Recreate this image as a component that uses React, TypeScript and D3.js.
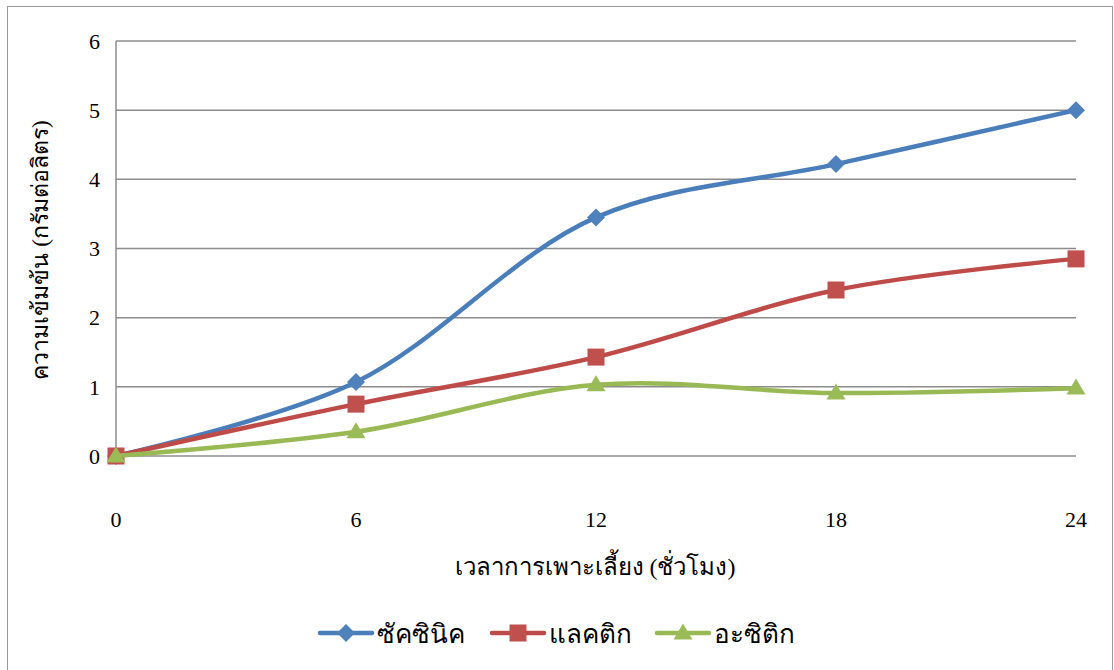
import React from "react";
import * as d3 from "d3";

const hours = [0, 6, 12, 18, 24];
const succinic = [0, 1.07, 3.45, 4.22, 5.0];
const lactic = [0, 0.75, 1.43, 2.4, 2.85];
const acetic = [0, 0.35, 1.03, 0.91, 0.98];
const yTicks = [0, 1, 2, 3, 4, 5, 6];

const seriesNames = ["ซัคซินิค", "แลคติก", "อะซิติก"];
const lineColors = ["#4A7EBB", "#BE4B48", "#98B954"];
const markerColors = ["#4F81BD", "#C0504D", "#9BBB59"];
const markerKinds = ["diamond", "square", "triangle"];

const W = 1114;
const H = 670;
const FONT = "Liberation Serif, Times New Roman, serif";

function Marker({ kind, x, y, fill }: { kind: string; x: number; y: number; fill: string }) {
  if (kind === "diamond") {
    const r = 9;
    return <path d={`M${x},${y - r}L${x + r},${y}L${x},${y + r}L${x - r},${y}Z`} fill={fill} />;
  }
  if (kind === "square") {
    const s = 17;
    return <rect x={x - s / 2} y={y - s / 2} width={s} height={s} fill={fill} />;
  }
  const s = 19;
  const h = 16;
  return <path d={`M${x},${y - h * 0.6}L${x + s / 2},${y + h * 0.4}L${x - s / 2},${y + h * 0.4}Z`} fill={fill} />;
}

export default function App() {
  const x = d3.scaleLinear().domain([0, 24]).range([116, 1076]);
  const y = d3.scaleLinear().domain([0, 6]).range([456, 41]);
  const data = [succinic, lactic, acetic];
  const line = d3
    .line<number>()
    .x((_, i) => x(hours[i]))
    .y((d) => y(d))
    .curve(d3.curveCatmullRom.alpha(0.5));

  const legendX = [320, 492, 657];
  const legendY = 633;
  const txt = { fontFamily: FONT };

  return (
    <svg
      width={W}
      height={H}
      style={{ position: "absolute", left: 0, top: 0, background: "#fff", fontFamily: FONT }}
    >
      <rect x={7.5} y={6.5} width={1105} height={680} fill="#fff" stroke="#9a9a9a" strokeWidth={1} />
      {yTicks.map((t) => (
        <g key={t}>
          <line x1={116} x2={1076} y1={y(t)} y2={y(t)} stroke="#8c8c8c" strokeWidth={1.5} />
          <text x={100} y={y(t)} dy="0.35em" textAnchor="end" fontSize={22} fill="#000" style={txt}>
            {t}
          </text>
        </g>
      ))}
      <line x1={116} x2={116} y1={41} y2={456} stroke="#8c8c8c" strokeWidth={1.5} />
      {hours.map((h) => (
        <text key={h} x={x(h)} y={527} textAnchor="middle" fontSize={22} fill="#000" style={txt}>
          {h}
        </text>
      ))}
      <text x={595} y={575} textAnchor="middle" fontSize={24} fill="#000" style={txt}>
        เวลาการเพาะเลี้ยง (ชั่วโมง)
      </text>
      <text
        transform={`translate(48,250) rotate(-90)`}
        textAnchor="middle"
        fontSize={23}
        fill="#000"
        style={txt}
      >
        ความเข้มข้น (กรัมต่อลิตร)
      </text>
      {data.map((vals, si) => (
        <g key={si}>
          <path d={line(vals) || ""} fill="none" stroke={lineColors[si]} strokeWidth={4.5} strokeLinecap="round" />
          {vals.map((v, i) => (
            <Marker key={i} kind={markerKinds[si]} x={x(hours[i])} y={y(v)} fill={markerColors[si]} />
          ))}
        </g>
      ))}
      {seriesNames.map((name, si) => (
        <g key={name}>
          <line
            x1={legendX[si]}
            x2={legendX[si] + 52}
            y1={legendY}
            y2={legendY}
            stroke={lineColors[si]}
            strokeWidth={4.5}
            strokeLinecap="round"
          />
          <Marker kind={markerKinds[si]} x={legendX[si] + 26} y={legendY} fill={markerColors[si]} />
          <text x={legendX[si] + 57} y={legendY} dy="0.38em" fontSize={26} fill="#000" style={txt}>
            {name}
          </text>
        </g>
      ))}
    </svg>
  );
}
